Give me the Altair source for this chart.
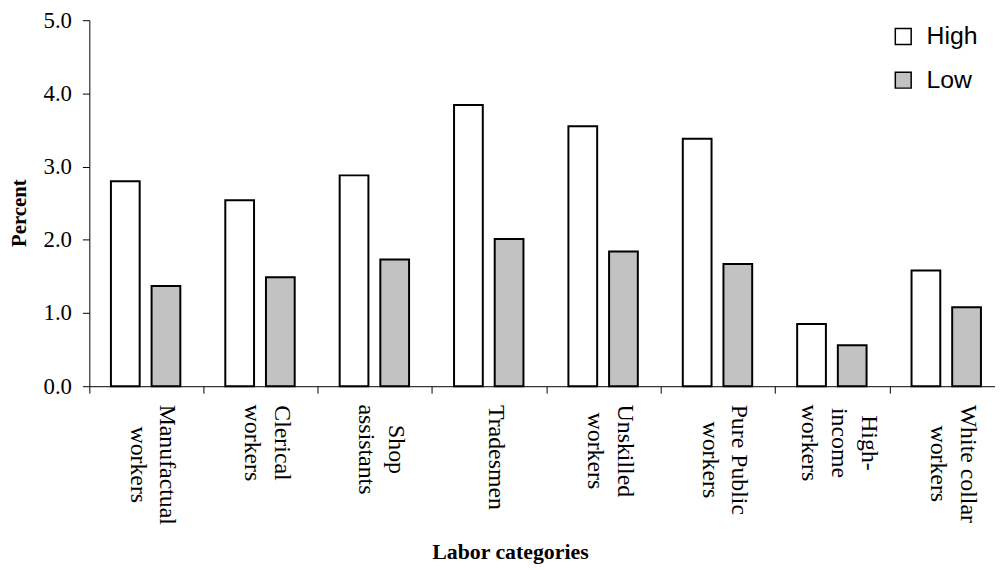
import json
import altair as alt
import pandas as pd

# ---- data ----
categories = ["Manufactual workers", "Clerical workers", "Shop assistants", "Tradesmen",
              "Unskilled workers", "Pure Public workers", "High-income workers", "White collar workers"]
label_lines = [["Manufactual", "workers"], ["Clerical", "workers"], ["Shop", "assistants"], ["Tradesmen"],
               ["Unskilled", "workers"], ["Pure Public", "workers"], ["High-", "income", "workers"],
               ["White collar", "workers"]]
high_values = [2.80, 2.54, 2.88, 3.84, 3.55, 3.38, 0.85, 1.58]
low_values = [1.37, 1.49, 1.73, 2.01, 1.84, 1.67, 0.56, 1.08]
series = ["High", "Low"]
y_ticks = [0, 1, 2, 3, 4, 5]

# ---- styles ----
series_colors = ["#ffffff", "#c2c2c2"]
label_pad = [71.7, 49.7, 56.3, 64.3, 57.7, 66.7, 49.7, 70.7]
LINE_H = 30
SERIF = "Liberation Serif"
SANS = "Liberation Sans"

rows = []
for c, h, l in zip(categories, high_values, low_values):
    rows.append({"category": c, "series": "High", "value": h})
    rows.append({"category": c, "series": "Low", "value": l})
df = pd.DataFrame(rows)

label_expr = "datum.value"
pad_expr = "60"
off_expr = "6"
for cat, lines, pad in reversed(list(zip(categories, label_lines, label_pad))):
    off = (len(lines) - 1) * LINE_H / 2 + 6
    label_expr = f"datum.value === {json.dumps(cat)} ? {json.dumps(lines)} : ({label_expr})"
    pad_expr = f"datum.value === {json.dumps(cat)} ? {pad} : ({pad_expr})"
    off_expr = f"datum.value === {json.dumps(cat)} ? {off} : ({off_expr})"

band = 115.3
n = len(categories)

chart = alt.Chart(df).mark_bar(stroke="black", strokeWidth=2).encode(
    x=alt.X("category:N", sort=categories,
            scale=alt.Scale(range=[0, band * n], paddingInner=0, paddingOuter=0),
            axis=alt.Axis(
                bandPosition=0, labelOffset=alt.ExprRef(expr=off_expr), labelAngle=90,
                labelAlign="center", labelBaseline="middle", labelExpr=label_expr,
                labelPadding=alt.ExprRef(expr=pad_expr),
                labelFont=SERIF, labelFontSize=24, labelLineHeight=LINE_H, labelColor="black",
                labelOverlap=False, labelFlush=False, labelLimit=400,
                tickSize=7, tickColor="black", tickWidth=1, domainColor="black", domainWidth=1,
                title="Labor categories", titleFont=SERIF, titleFontSize=22, titleFontWeight="bold",
                titleColor="black", titleX=424, titleY=174, titleAlign="center",
                titleBaseline="alphabetic", titleAngle=0, grid=False)),
    xOffset=alt.XOffset("series:N", sort=series,
                        scale=alt.Scale(paddingInner=0.293, paddingOuter=0.553, align=0.48)),
    y=alt.Y("value:Q", scale=alt.Scale(domain=[0, 5], nice=False),
            axis=alt.Axis(
                values=y_ticks, format=".1f", tickSize=7, tickColor="black", tickWidth=1,
                domainColor="black", domainWidth=1, labelPadding=11, labelFont=SERIF,
                labelFontSize=23, labelColor="black", labelBaseline="middle", grid=False,
                title="Percent", titleFont=SERIF, titleFontSize=21, titleFontWeight="bold",
                titleColor="black", titleX=-70, titleY=194, titleAlign="center",
                titleBaseline="middle", titleAngle=270)),
    fill=alt.Fill("series:N", scale=alt.Scale(domain=series, range=series_colors),
                  legend=alt.Legend(
                      title=None, orient="none", legendX=808, legendY=4, symbolType="square",
                      symbolSize=256, symbolStrokeColor="black", symbolStrokeWidth=1.5,
                      symbolOpacity=1, labelFont=SANS, labelFontSize=25, labelColor="black",
                      labelOffset=11, rowPadding=18, padding=0)),
).properties(
    width=913, height=369,
    autosize=alt.AutoSizeParams(type="none"),
    padding={"left": 82, "top": 10, "right": 0, "bottom": 183},
    background="white",
).configure_view(strokeWidth=0)

chart.save("out.html", embed_options={"renderer": "svg", "actions": False})
